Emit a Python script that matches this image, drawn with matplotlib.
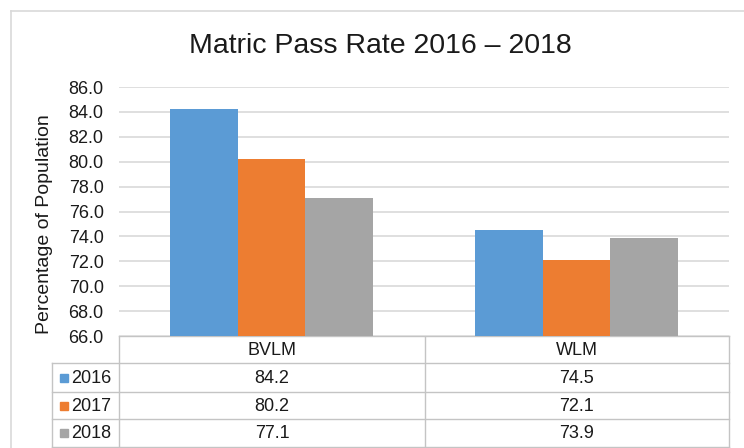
import matplotlib.pyplot as plt
import numpy as np

plt.rcParams['font.family'] = ['Liberation Sans', 'DejaVu Sans']

# data
regions = ['BVLM', 'WLM']
years = ['2016', '2017', '2018']
rate_2016 = [84.2, 74.5]
rate_2017 = [80.2, 72.1]
rate_2018 = [77.1, 73.9]
colors = ['#5B9BD5', '#ED7D31', '#A5A5A5']
series = [rate_2016, rate_2017, rate_2018]

W, H = 744, 448
fig = plt.figure(figsize=(W / 100, H / 100), dpi=100)

# pixel helper axes (border + table)
bg = fig.add_axes([0, 0, 1, 1])
bg.set_xlim(0, W)
bg.set_ylim(H, 0)
bg.axis('off')
grey = '#D9D9D9'
bg.plot([11, 11], [11, H], color=grey, lw=1.2)
bg.plot([11, W], [11, 11], color=grey, lw=1.2)

# plot area
px0, px1, py0, py1 = 119, 729, 87, 336
ax = fig.add_axes([px0 / W, 1 - py1 / H, (px1 - px0) / W, (py1 - py0) / H])
x = np.arange(len(regions))
bw = 0.222
for i, vals in enumerate(series):
    ax.bar(x + (i - 1) * bw, vals, width=bw, color=colors[i], zorder=3)
ax.set_xlim(-0.5, len(regions) - 0.5)
ax.set_ylim(66, 86)
ax.set_yticks(np.arange(66, 86.1, 2))
ax.set_yticklabels([f'{v:.1f}' for v in np.arange(66, 86.1, 2)], fontsize=13, color='#1a1a1a')
ax.set_xticks([])
ax.grid(axis='y', color=grey, lw=1.2, zorder=0)
for s in ax.spines.values():
    s.set_visible(False)
ax.tick_params(axis='y', length=0, pad=11)
ax.set_ylabel('Percentage of Population', fontsize=14, color='#1a1a1a')
ax.yaxis.set_label_coords(-0.108, 0.45)

fig.text(380 / W, 1 - 46 / H, 'Matric Pass Rate 2016 – 2018', fontsize=20.5,
         ha='center', va='center', color='#1a1a1a')

# data table
line_c = '#C4C4C4'
rows_y = [336, 363, 392, 419, 447]
lab_x0 = 52
col_x = [px0, 425, px1]
bg.plot([px0, px1], [rows_y[0], rows_y[0]], color=line_c, lw=1)
for yy in rows_y[1:]:
    bg.plot([lab_x0, px1], [yy, yy], color=line_c, lw=1)
for xx in col_x:
    bg.plot([xx, xx], [rows_y[0], rows_y[-1]], color=line_c, lw=1)
bg.plot([lab_x0, lab_x0], [rows_y[1], rows_y[-1]], color=line_c, lw=1)

for j, name in enumerate(regions):
    cx = (col_x[j] + col_x[j + 1]) / 2
    bg.text(cx, (rows_y[0] + rows_y[1]) / 2 + 1, name, ha='center', va='center',
            fontsize=13, color='#1a1a1a')
for i, yr in enumerate(years):
    cy = (rows_y[i + 1] + rows_y[i + 2]) / 2 + 1
    bg.add_patch(plt.Rectangle((60, cy - 4.5), 8, 8, color=colors[i]))
    bg.text(71, cy, yr, ha='left', va='center', fontsize=13, color='#1a1a1a')
    for j in range(len(regions)):
        cx = (col_x[j] + col_x[j + 1]) / 2
        bg.text(cx, cy, f'{series[i][j]:.1f}', ha='center', va='center',
                fontsize=13, color='#1a1a1a')

fig.savefig('out.png', dpi=100)
